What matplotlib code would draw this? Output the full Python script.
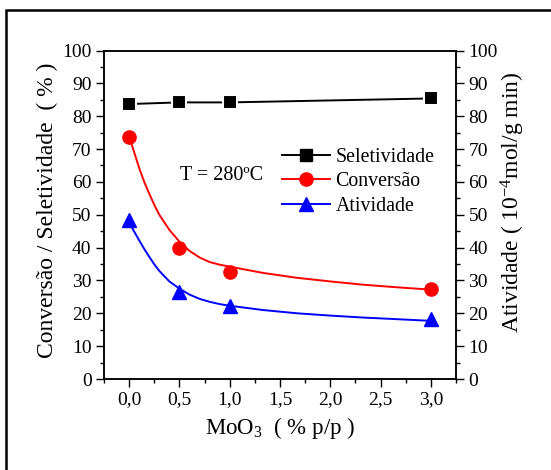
import matplotlib
matplotlib.use("Agg")
import matplotlib.pyplot as plt
from matplotlib.lines import Line2D
from matplotlib.patches import Rectangle

# ---- data ----
moo3 = [0.0, 0.5, 1.0, 3.0]
seletividade = [83.7, 84.2, 84.2, 85.4]
conversao = [73.7, 40.0, 32.7, 27.3]
atividade = [48.3, 26.6, 22.1, 18.3]

# fitted curves
fit_x = [0.0, 0.04, 0.1, 0.15, 0.2, 0.25, 0.3, 0.4, 0.5, 0.6, 0.7, 0.8, 0.9, 1.0,
         1.33, 1.67, 2.0, 2.33, 2.67, 3.0]
fit_conv = [73.7, 70.0, 64.2, 60.0, 56.4, 53.0, 50.0, 45.4, 41.8, 39.0, 37.0, 35.6, 34.8, 34.2,
            32.3, 30.8, 29.7, 28.7, 27.9, 27.2]
fit_ativ = [47.8, 45.4, 42.2, 39.6, 37.2, 34.9, 32.9, 29.7, 27.5, 25.7, 24.4, 23.5, 22.8, 22.3,
            21.0, 20.0, 19.3, 18.7, 18.2, 17.7]

xticks = [0.0, 0.5, 1.0, 1.5, 2.0, 2.5, 3.0]
xtick_labels = ["0,0", "0,5", "1,0", "1,5", "2,0", "2,5", "3,0"]
yticks = [0, 10, 20, 30, 40, 50, 60, 70, 80, 90, 100]

plt.rcParams['font.family'] = ['Liberation Serif', 'DejaVu Serif']
plt.rcParams['mathtext.fontset'] = 'custom'
plt.rcParams['mathtext.rm'] = 'Liberation Serif'
plt.rcParams['mathtext.it'] = 'Liberation Serif:italic'

fig = plt.figure(figsize=(5.51, 4.70), dpi=100)
W, H = 551, 470
ax = fig.add_axes([104 / W, 1 - 379 / H, (456 - 104) / W, (379 - 50.5) / H])

# outer frame
fig.patches.append(Rectangle((5.5 / W, -0.1), 1.2, 1 - 10.5 / H + 0.1,
                             transform=fig.transFigure, fill=False,
                             edgecolor='black', linewidth=1.8))

ax.plot(fit_x, fit_conv, color='red', lw=1.4, zorder=2)
ax.plot(fit_x, fit_ativ, color='blue', lw=1.4, zorder=2)
ax.plot(moo3, seletividade, color='black', lw=1.4, marker='s', ms=10.5,
        mfc='black', mec='white', mew=1.5, zorder=3)
ax.plot(moo3, conversao, ls='none', marker='o', ms=9.5, color='red', zorder=3)
ax.plot(moo3, atividade, ls='none', marker='^', ms=10.5, color='blue', zorder=3)

ax.set_xlim(-0.25, 3.25)
ax.set_ylim(0, 100)
ax.set_xticks(xticks)
ax.set_xticklabels(xtick_labels)
ax.set_yticks(yticks)
ax.set_xticks([0.25, 0.75, 1.25, 1.75, 2.25, 2.75, -0.25, 3.25], minor=True)
ax.set_yticks([5, 15, 25, 35, 45, 55, 65, 75, 85, 95], minor=True)
ax.tick_params(which='major', direction='out', length=6, width=1, labelsize=14,
               top=False, right=False, pad=3)
ax.tick_params(which='minor', direction='out', length=3, width=1, top=False, right=False)
for s in ax.spines.values():
    s.set_linewidth(1.1)

ax2 = ax.twinx()
ax2.set_ylim(0, 100)
ax2.set_yticks(yticks)
ax2.set_yticks([5, 15, 25, 35, 45, 55, 65, 75, 85, 95], minor=True)
ax2.tick_params(which='major', direction='out', length=6, width=1, labelsize=14, pad=3)
ax2.tick_params(which='minor', direction='out', length=3, width=1)
for s in ax2.spines.values():
    s.set_linewidth(1.1)

ax.set_ylabel("Conversão / Seletividade  ( % )", fontsize=17, labelpad=3)
ax.yaxis.label.set_y(0.514)
ax2.set_ylabel("Atividade ( 10$^{-4}$mol/g min)", fontsize=17, labelpad=1)
ax2.yaxis.label.set_y(0.539)
ax.set_xlabel("MoO$_3$  ( % p/p )", fontsize=16.5, labelpad=5)

ax.text(0.51, 61.8, "T = 280ºC", fontsize=14.5, ha='left', va='center')

handles = [
    Line2D([], [], color='black', lw=1.4, marker='s', ms=9),
    Line2D([], [], color='red', lw=1.4, marker='o', ms=9.5),
    Line2D([], [], color='blue', lw=1.4, marker='^', ms=10.5),
]
ax.legend(handles, ["Seletividade", "Conversão", "Atividade"],
          loc='upper left', bbox_to_anchor=(0.483, 0.728), frameon=False,
          fontsize=14.3, handlelength=2.4, handletextpad=0.3, labelspacing=0.28,
          borderaxespad=0)

fig.savefig("out.png", dpi=100)
